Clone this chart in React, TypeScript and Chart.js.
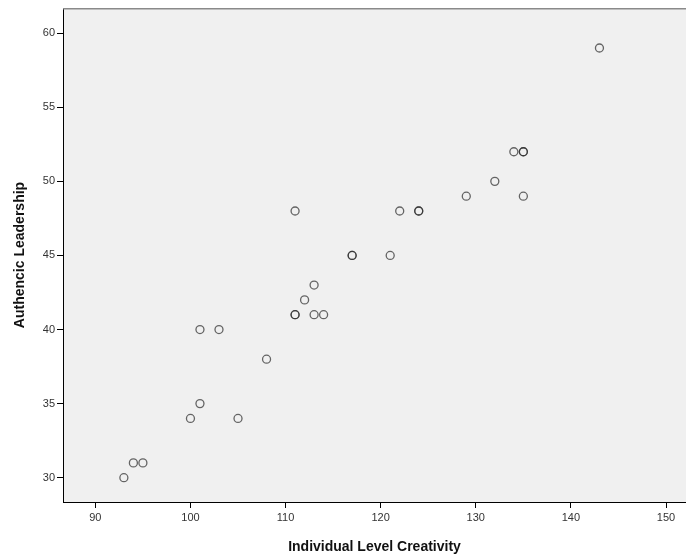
import React, { useEffect, useRef } from "react";
import { Chart, registerables } from "chart.js";

Chart.register(...registerables);

const creativity = [93, 94, 95, 100, 101, 105, 101, 103, 108, 111, 111, 111, 112, 113, 113, 114, 117, 117, 121, 122, 124, 124, 129, 132, 134, 135, 135, 135, 143];
const leadership = [30, 31, 31, 34, 35, 34, 40, 40, 38, 48, 41, 41, 42, 43, 41, 41, 45, 45, 45, 48, 48, 48, 49, 50, 52, 52, 52, 49, 59];
const xTicks = [90, 100, 110, 120, 130, 140, 150];
const yTicks = [30, 35, 40, 45, 50, 55, 60];

const bgPlugin = {
  id: "bgPlugin",
  beforeDraw(chart: any) {
    const { ctx, chartArea } = chart;
    ctx.save();
    ctx.fillStyle = "#f0f0f0";
    ctx.fillRect(chartArea.left, chartArea.top, chartArea.right - chartArea.left, chartArea.bottom - chartArea.top);
    ctx.restore();
  },
  afterDraw(chart: any) {
    const { ctx, chartArea } = chart;
    ctx.save();
    ctx.strokeStyle = "#8a8a8a";
    ctx.lineWidth = 1.5;
    ctx.beginPath();
    ctx.moveTo(chartArea.left, chartArea.top + 0.75);
    ctx.lineTo(chartArea.right, chartArea.top + 0.75);
    ctx.stroke();
    ctx.restore();
  },
};

export default function App() {
  const ref = useRef<HTMLCanvasElement>(null);
  useEffect(() => {
    if (!ref.current) return;
    const chart = new Chart(ref.current, {
      type: "scatter",
      data: {
        datasets: [
          {
            data: creativity.map((x, i) => ({ x, y: leadership[i] })),
            pointRadius: 4,
            pointHoverRadius: 4,
            pointBorderWidth: 1.3,
            borderColor: "rgba(40,40,40,0.7)",
            backgroundColor: "rgba(0,0,0,0)",
          },
        ],
      },
      options: {
        animation: false,
        responsive: false,
        maintainAspectRatio: false,
        layout: { autoPadding: false, padding: { top: 8, right: 0, left: 0, bottom: 0 } },
        plugins: { legend: { display: false }, tooltip: { enabled: false } },
        scales: {
          x: {
            type: "linear",
            min: 86.6,
            max: 152.1,
            afterBuildTicks: (s: any) => {
              s.ticks = xTicks.map((v) => ({ value: v }));
            },
            afterFit: (s: any) => {
              s.height = 54;
              s.paddingLeft = 0;
              s.paddingRight = 0;
            },
            grid: { display: true, drawOnChartArea: false, drawTicks: true, tickLength: 6, color: "#000", lineWidth: 1 },
            border: { display: true, color: "#000", width: 1 },
            ticks: { color: "#333", font: { family: "Liberation Sans, Arial, sans-serif", size: 11 }, padding: 3, maxRotation: 0 },
            title: {
              display: true,
              text: "Individual Level Creativity",
              color: "#111",
              font: { family: "Liberation Sans, Arial, sans-serif", size: 14, weight: "bold", lineHeight: 1.2 },
              padding: { top: 3, bottom: 0 },
            },
          },
          y: {
            type: "linear",
            min: 28.36,
            max: 61.7,
            afterBuildTicks: (s: any) => {
              s.ticks = yTicks.map((v) => ({ value: v }));
            },
            afterFit: (s: any) => {
              s.width = 63;
              s.paddingTop = 0;
              s.paddingBottom = 0;
            },
            grid: { display: true, drawOnChartArea: false, drawTicks: true, tickLength: 6, color: "#000", lineWidth: 1 },
            border: { display: true, color: "#000", width: 1 },
            ticks: { color: "#333", font: { family: "Liberation Sans, Arial, sans-serif", size: 11 }, padding: 2 },
            title: {
              display: true,
              text: "Authencic Leadership",
              color: "#111",
              font: { family: "Liberation Sans, Arial, sans-serif", size: 14, weight: "bold", lineHeight: 1.2 },
              padding: { top: 12, bottom: 0 },
            },
          },
        },
      },
      plugins: [bgPlugin],
    });
    return () => chart.destroy();
  }, []);
  return (
    <div style={{ position: "fixed", left: 0, top: 0, width: 686, height: 556, background: "#fff" }}>
      <canvas ref={ref} width={686} height={556} style={{ display: "block" }} />
    </div>
  );
}
